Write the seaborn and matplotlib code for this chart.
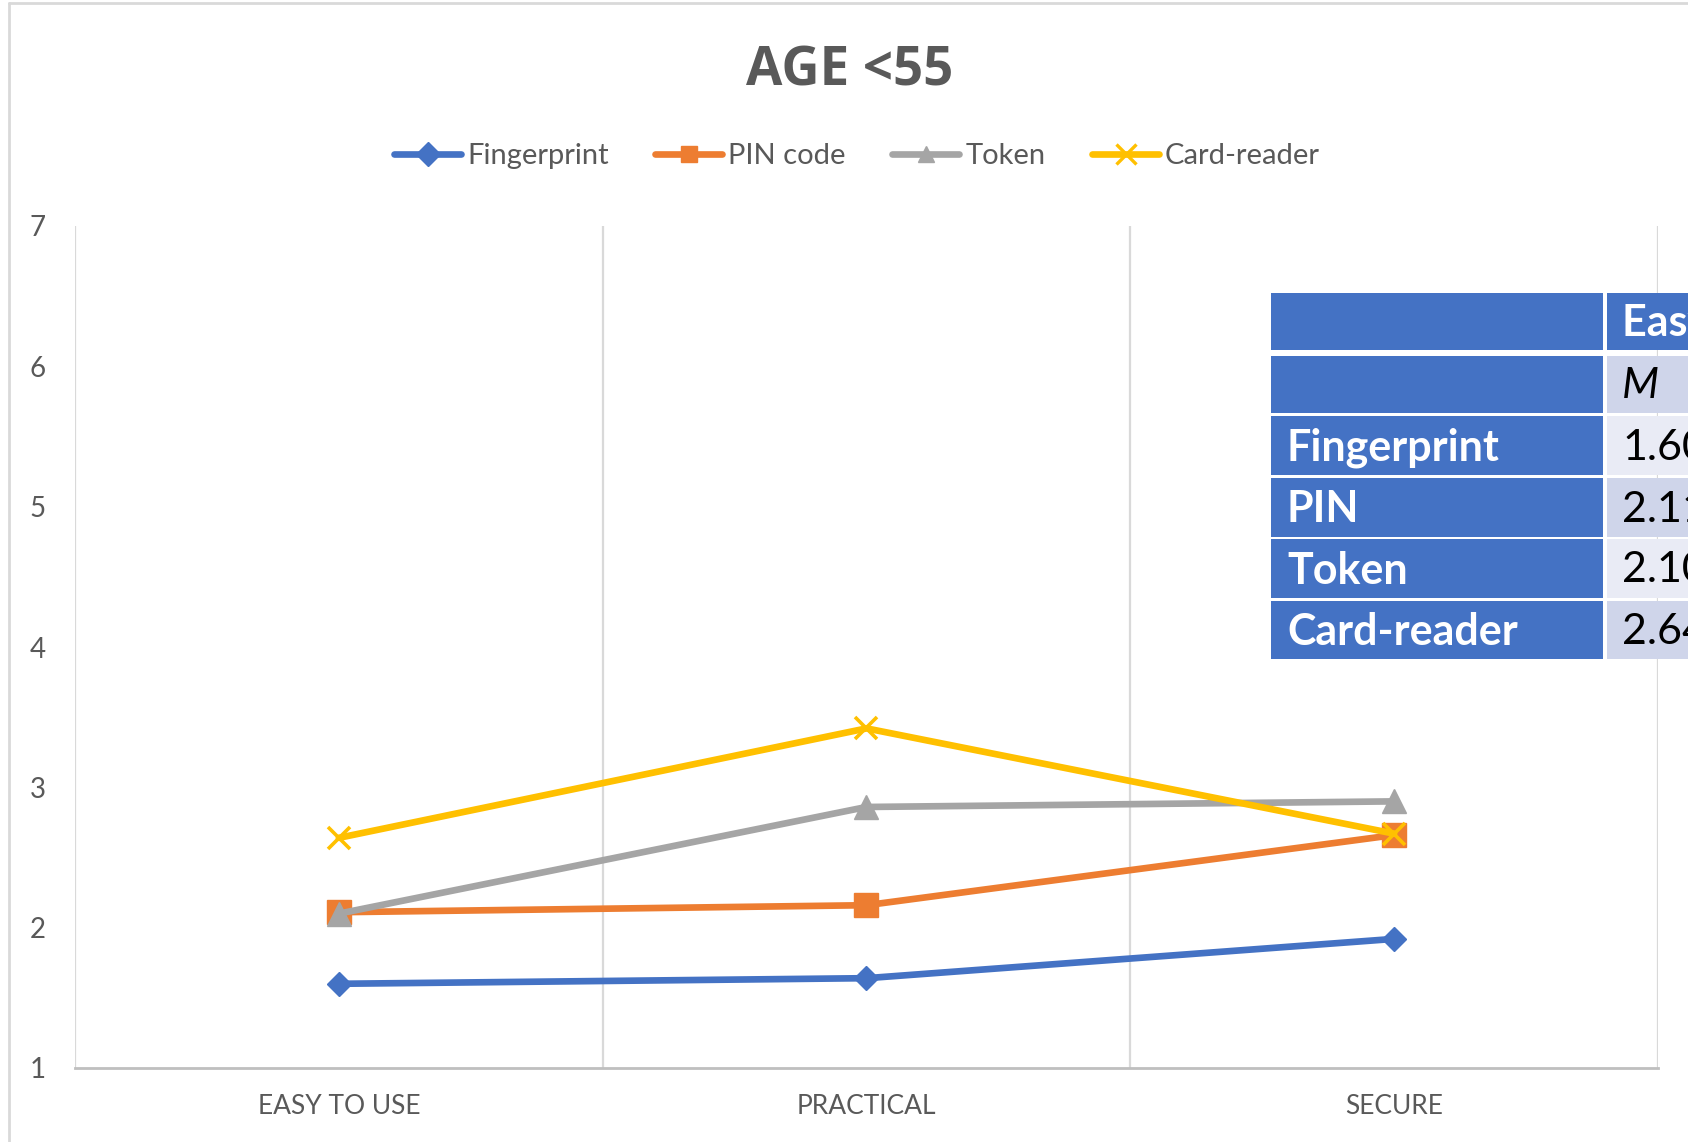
import matplotlib
matplotlib.use("Agg")
import matplotlib.pyplot as plt
import seaborn as sns
import pandas as pd
from matplotlib.patches import Rectangle
from matplotlib.lines import Line2D

# ---------------- data ----------------
categories = ["EASY TO USE", "PRACTICAL", "SECURE"]
series_names = ["Fingerprint", "PIN code", "Token", "Card-reader"]
fingerprint = [1.60, 1.64, 1.92]
pin_code = [2.11, 2.16, 2.66]
token = [2.10, 2.86, 2.90]
card_reader = [2.64, 3.42, 2.67]
y_ticks = [1, 2, 3, 4, 5, 6, 7]
title_text = "AGE <55"

table_row_labels = ["Fingerprint", "PIN", "Token", "Card-reader"]
table_header = "Easy to use"
table_subheader = "M"
table_values = [fingerprint[0], pin_code[0], token[0], card_reader[0]]

colors = ["#4472C4", "#ED7D31", "#A5A5A5", "#FFC000"]
markers = ["D", "s", "^", "x"]
msizes = [12, 17, 17, 16]

# ---------------- figure ----------------
sns.set_theme(style="white")
plt.rcParams["font.family"] = ["Lato", "DejaVu Sans"]

W, H = 1688, 1142
fig = plt.figure(figsize=(W / 100, H / 100), dpi=100)

def fx(px):
    return px / W

def fy(py):
    return 1 - py / H

ax = fig.add_axes([fx(75), fy(1068), fx(1658) - fx(75), fy(226) - fy(1068)])

all_vals = [fingerprint, pin_code, token, card_reader]
for name, vals, c, m, ms in zip(series_names, all_vals, colors, markers, msizes):
    d = pd.DataFrame({"category": categories, "value": vals})
    sns.lineplot(
        data=d, x="category", y="value", color=c, marker=m, markersize=ms,
        markeredgecolor=c, markeredgewidth=(2.6 if m == "x" else 1),
        sort=False, linewidth=4.8, ax=ax, legend=False, zorder=3,
    )

ax.set_xlim(-0.5, 2.5)
ax.set_ylim(1, 7)
ax.set_yticks(y_ticks)
ax.set_yticklabels([str(t) for t in y_ticks])
ax.set_xticks(range(len(categories)))
ax.set_xticklabels(categories)
ax.set_xlabel("")
ax.set_ylabel("")

for xv in [-0.5, 0.5, 1.5, 2.5]:
    ax.axvline(xv, color="#D9D9D9", linewidth=1.6, zorder=1)

for s in ["top", "right", "left"]:
    ax.spines[s].set_visible(False)
ax.spines["bottom"].set_color("#BFBFBF")
ax.spines["bottom"].set_linewidth(2)

ax.tick_params(axis="y", length=0, pad=21, labelsize=20, labelcolor="#595959")
ax.tick_params(axis="x", length=0, pad=19, labelsize=19, labelcolor="#595959")

# title
fig.text(fx(850), fy(72), title_text, ha="center", va="center",
         fontsize=38, fontweight="bold", color="#595959", family=["Open Sans", "DejaVu Sans"])

# legend
handles = [Line2D([0], [0], color=c, marker=m, linewidth=4.8, markersize=(14 if m == "x" else 12),
                  markeredgewidth=(2.4 if m == "x" else 1), markeredgecolor=c)
           for c, m in zip(colors, markers)]
leg = fig.legend(handles, series_names, loc="center", bbox_to_anchor=(fx(857), fy(156)),
                 ncol=4, frameon=False, fontsize=21, handlelength=2.3, handletextpad=0.2,
                 columnspacing=1.6)
for t in leg.get_texts():
    t.set_color("#595959")

# chart border
fig.add_artist(Line2D([fx(9), fx(9)], [fy(3), 0], color="#D9D9D9", linewidth=2, transform=fig.transFigure))
fig.add_artist(Line2D([fx(9), 1], [fy(3), fy(3)], color="#D9D9D9", linewidth=2, transform=fig.transFigure))

# overlay table (extends past the right edge, as in the source image)
blue = "#4472C4"
light1 = "#CFD5EA"
light2 = "#E9EBF5"
rows_px = [(293, 350), (356, 413), (416, 475), (478, 537), (539, 598), (601, 659)]
left_x0, left_x1 = 1271, 1603
right_x0, right_x1 = 1607, 1760
right_colors = [blue, light1, light2, light1, light2, light1]
for i, (top, bot) in enumerate(rows_px):
    fig.add_artist(Rectangle((fx(left_x0), fy(bot)), fx(left_x1) - fx(left_x0), fy(top) - fy(bot),
                             transform=fig.transFigure, facecolor=blue, edgecolor="none", zorder=10))
    fig.add_artist(Rectangle((fx(right_x0), fy(bot)), fx(right_x1) - fx(right_x0), fy(top) - fy(bot),
                             transform=fig.transFigure, facecolor=right_colors[i], edgecolor="none", zorder=10))

def row_center(i):
    top, bot = rows_px[i]
    return fy((top + bot) / 2 + 2)

tfont = 31
fig.text(fx(1622), row_center(0), table_header, ha="left", va="center", fontsize=tfont,
         fontweight="bold", color="white", zorder=11)
fig.text(fx(1622), row_center(1), table_subheader, ha="left", va="center", fontsize=tfont,
         fontstyle="italic", color="black", zorder=11)
for i, (lab, val) in enumerate(zip(table_row_labels, table_values)):
    fig.text(fx(1287), row_center(i + 2), lab, ha="left", va="center", fontsize=tfont,
             fontweight="bold", color="white", zorder=11)
    fig.text(fx(1622), row_center(i + 2), f"{val:.2f}", ha="left", va="center", fontsize=tfont,
             color="black", zorder=11)

fig.savefig("out.png", dpi=100, facecolor="white")
